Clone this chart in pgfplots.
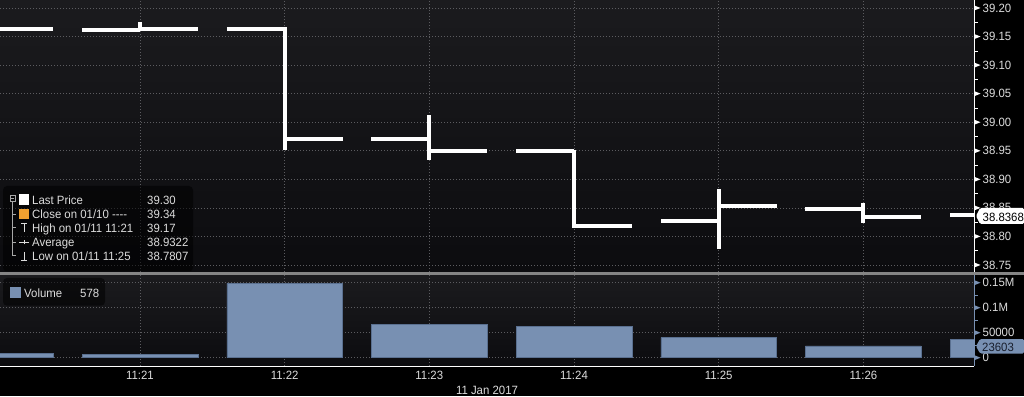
\documentclass[border=0pt]{standalone}
\usepackage{pgfplots}
\pgfplotsset{compat=1.18}
\usepackage{fontspec}
\setmainfont{Liberation Sans}[FakeStretch=0.95]
\definecolor{bgtop}{HTML}{1B1B1E}
\definecolor{bgbot}{HTML}{0C0C0F}
\definecolor{gridc}{HTML}{5C5C60}
\definecolor{sepc}{HTML}{858585}
\definecolor{volc}{HTML}{7890B2}
\definecolor{voledge}{HTML}{5A7090}
\definecolor{txt}{HTML}{DCDCDC}
\definecolor{orng}{HTML}{F0A030}
\definecolor{treec}{HTML}{A8A8A8}
\pgfplotsset{bbg/.style={
  scale only axis, width=974pt, xmin=0.0323, xmax=6.765,
  axis x line*=bottom, axis y line*=right,
  xtick={1,2,3,4,5,6},
  grid=major,
  major grid style={gridc, line width=0.7pt, dash pattern=on 1pt off 2pt},
  major tick length=0pt,
  tick label style={text=txt},
  scaled y ticks=false,
  /pgf/number format/assume math mode=true,
}}
\begin{document}
\begin{tikzpicture}[x=1pt,y=1pt,font=\fontsize{12}{14}\selectfont]
\fill[black] (0,0) rectangle (1024,396);
\shade[top color=bgtop, bottom color=bgbot] (0,124) rectangle (974,396);
\shade[top color=bgtop, bottom color=bgbot] (0,30) rectangle (974,120.7);

% ---------------- price panel
\begin{axis}[bbg, at={(0pt,124pt)}, anchor=south west, height=272pt,
  ymin=38.7377, ymax=39.214,
  ytick={38.75,38.8,38.85,38.9,38.95,39,39.05,39.1,39.15,39.2},
  minor ytick={38.775,38.825,38.875,38.925,38.975,39.025,39.075,39.125,39.175},
  minor tick length=3.5pt, tick align=outside,
  minor tick style={white, line width=0.6pt},
  y axis line style={white, line width=0.8pt},
  x axis line style={draw=none},
  xticklabel style={opacity=0},
  yticklabel={\pgfmathprintnumber[fixed,fixed zerofill,precision=2]{\tick}},
  yticklabel style={anchor=west, inner sep=0pt, xshift=8.5pt},
  unbounded coords=jump,
]
\addplot[white, line width=4pt, line cap=butt] coordinates {
 (-0.1,39.164) (0.4,39.164) (0.4,nan)
 (0.6,39.1615) (1,39.1615) (1,nan)
 (1,39.1755) (1,39.1615) (1,nan)
 (1,39.164) (1.4,39.164) (1.4,nan)
 (1.6,39.164) (2,39.164) (2,nan)
 (2,39.166) (2,38.951) (2,nan)
 (2,38.9711) (2.4,38.9711) (2.4,nan)
 (2.6,38.9711) (3,38.9711) (3,nan)
 (3,39.0126) (3,38.934) (3,nan)
 (3,38.950) (3.4,38.950) (3.4,nan)
 (3.6,38.9496) (4,38.9496) (4,nan)
 (4,38.9516) (4,38.815) (4,nan)
 (4,38.818) (4.4,38.818) (4.4,nan)
 (4.6,38.8275) (5,38.8275) (5,nan)
 (5,38.883) (5,38.778) (5,nan)
 (5,38.8538) (5.4,38.8538) (5.4,nan)
 (5.6,38.8475) (6,38.8475) (6,nan)
 (6,38.8585) (6,38.8235) (6,nan)
 (6,38.8335) (6.4,38.8335) (6.4,nan)
 (6.6,38.8370) (7,38.8370)
};
\end{axis}

% ---------------- volume panel
\begin{axis}[bbg, at={(0pt,30pt)}, anchor=south west, height=90.7pt,
  ymin=-16600, ymax=164800,
  ytick={0,50000,100000,150000},
  yticklabels={0,50000,0.1M,0.15M},
  yticklabel style={anchor=west, inner sep=0pt, xshift=8.5pt},
  minor ytick={25000,75000,125000},
  minor tick length=3.5pt, tick align=outside,
  minor tick style={volc, line width=0.6pt},
  y axis line style={volc, line width=0.8pt},
  x axis line style={white, line width=0.8pt},
  xticklabels={11:21,11:22,11:23,11:24,11:25,11:26},
  xticklabel style={anchor=base, inner sep=0pt, yshift=-13.3pt},
  xlabel={11 Jan 2017},
  xlabel style={at={(axis description cs:0.5,0)}, anchor=base, inner sep=0pt, yshift=-28pt, text=txt},
]
\addplot[ybar, bar width=115.7pt, bar shift=0pt, fill=volc, draw=voledge, line width=0.5pt]
 coordinates {(0,9300) (1,6700) (2,148800) (3,66800) (4,62000) (5,40000) (6,23400) (7,36800)};
\end{axis}

% tick triangles on the right axes
\foreach \v in {38.75,38.8,38.85,38.9,38.95,39,39.05,39.1,39.15,39.2}{
  \pgfmathsetmacro\yy{124+(\v-38.7377)*571.07}
  \fill[white] (974,\yy+2.6) -- (980.5,\yy) -- (974,\yy-2.6) -- cycle;
}
\foreach \v in {0,0.5,1,1.5}{
  \pgfmathsetmacro\yy{30+(\v+0.166)*50}
  \fill[volc] (974,\yy+2.6) -- (980.5,\yy) -- (974,\yy-2.6) -- cycle;
}

% separator
\fill[sepc] (0,120.7) rectangle (1024,124);

% ---------------- price legend
\fill[black, opacity=0.55, rounded corners=4pt] (3,124.5) rectangle (193,210);
\draw[treec, line width=0.6pt] (10.2,195) rectangle (15.2,200.2);
\draw[treec, line width=0.6pt] (11.2,197.6) -- (14.2,197.6);
\draw[treec, line width=0.6pt] (12.7,195) -- (12.7,140);
\foreach \yy in {181.7,168.3,153.7,140.3} \draw[treec, line width=0.6pt] (12.7,\yy) -- (16.2,\yy);
\fill[white] (19,191) rectangle (29,202);
\fill[orng] (19,177) rectangle (29,187);
\draw[txt, line width=0.8pt] (21,173) -- (27,173) (24,173) -- (24,164);
\draw[txt, line width=0.8pt] (19,153.7) -- (29,153.7) (24,151.7) -- (24,155.7);
\draw[txt, line width=0.8pt] (24,144) -- (24,136) (21,136) -- (27,136);
\begin{scope}[every node/.style={anchor=base west, inner sep=0pt, text=txt}]
\node at (32,191) {Last Price};
\node at (32,177) {Close on 01/10 -{}-{}-{}-};
\node at (32,163.3) {High on 01/11 11:21};
\node at (32,149.3) {Average};
\node at (32,135) {Low on 01/11 11:25};
\node at (147,191) {39.30};
\node at (147,177) {39.34};
\node at (147,163.3) {39.17};
\node at (147,149.3) {38.9322};
\node at (147,135) {38.7807};
\end{scope}
% volume legend
\fill[black, opacity=0.55, rounded corners=4pt] (3,90.3) rectangle (105,118);
\fill[volc] (10,98) rectangle (21,109);
\begin{scope}[every node/.style={anchor=base west, inner sep=0pt, text=txt}]
\node at (24,98.3) {Volume};
\node at (80,98.3) {578};
\end{scope}

% last value labels
\fill[white, rounded corners=1.5pt] (976,180) -- (980,188) -- (1024,188) -- (1024,172) -- (980,172) -- cycle;
\node[anchor=base west, inner sep=0pt, text=black] at (982.5,174.3) {38.8368};
\fill[volc, rounded corners=1.5pt] (976,49.8) -- (980,57) -- (1024,57) -- (1024,42.5) -- (980,42.5) -- cycle;
\node[anchor=base west, inner sep=0pt, text={rgb,255:red,24;green,30;blue,44}] at (982,44.5) {23603};

\pgfresetboundingbox
\path[use as bounding box] (0,0) rectangle (1024,396);
\end{tikzpicture}
\end{document}
